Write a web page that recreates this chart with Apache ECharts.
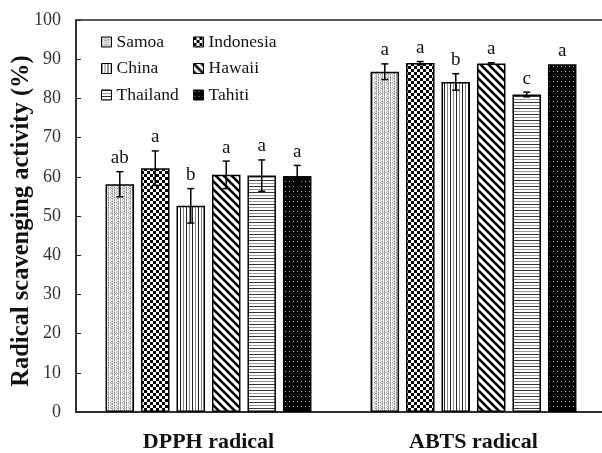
<!DOCTYPE html>
<html><head><meta charset="utf-8">
<script src="https://cdn.jsdelivr.net/npm/echarts@6/dist/echarts.min.js"></script>
<style>html,body{margin:0;padding:0;background:#fff}#c{width:602px;height:453px}</style>
</head><body><div id="c"></div>
<script>
// ---- data ----
const categories = ['DPPH radical', 'ABTS radical'];
const countries = ['Samoa', 'Indonesia', 'China', 'Hawaii', 'Thailand', 'Tahiti'];
const samoa = [58.1, 86.8];      const samoaErr = [3.2, 2.0];     const samoaSig = ['ab', 'a'];
const indonesia = [62.2, 89.0];  const indonesiaErr = [4.4, 0.4]; const indonesiaSig = ['a', 'a'];
const china = [52.6, 84.2];      const chinaErr = [4.4, 2.1];     const chinaSig = ['b', 'b'];
const hawaii = [60.5, 88.9];     const hawaiiErr = [3.5, 0.2];    const hawaiiSig = ['a', 'a'];
const thailand = [60.3, 81.0];   const thailandErr = [4.0, 0.6];  const thailandSig = ['a', 'c'];
const tahiti = [60.2, 88.7];     const tahitiErr = [2.7, 0.0];    const tahitiSig = ['a', 'a'];
const yTicks = [0, 10, 20, 30, 40, 50, 60, 70, 80, 90, 100];

const values = [samoa, indonesia, china, hawaii, thailand, tahiti];
const errors = [samoaErr, indonesiaErr, chinaErr, hawaiiErr, thailandErr, tahitiErr];
const sigs = [samoaSig, indonesiaSig, chinaSig, hawaiiSig, thailandSig, tahitiSig];

// ---- patterns ----
function mk(w, h, draw) { const c = document.createElement('canvas'); c.width = w; c.height = h; const g = c.getContext('2d'); g.fillStyle = '#fff'; g.fillRect(0, 0, w, h); draw(g); return c; }
const patSamoa = mk(6, 5, g => {
  const px = [[0,0,'#999'],[0,1,'#bbb'],[0,2,'#888'],[0,3,'#aaa'],[0,4,'#999'],[2,0,'#ccc'],[2,2,'#999'],[2,4,'#bbb'],[3,1,'#aaa'],[3,3,'#888'],[4,0,'#bbb'],[4,1,'#999'],[4,2,'#ccc'],[4,3,'#999'],[4,4,'#aaa'],[5,2,'#ddd'],[1,3,'#ddd']];
  for (const [x, y, c] of px) { g.fillStyle = c; g.fillRect(x, y, 1, 1); }
});
const patIndo = mk(6, 6, g => { g.fillStyle = '#000'; g.fillRect(0, 0, 3, 3); g.fillRect(3, 3, 3, 3); });
const patChina = mk(6, 1, g => { g.fillStyle = '#222'; g.fillRect(0, 0, 1, 1); g.fillStyle = '#888'; g.fillRect(3, 0, 1, 1); });
const patHawaii = mk(8, 8, g => { g.strokeStyle = '#000'; g.lineWidth = 2.6; for (const o of [-8, 0, 8]) { g.beginPath(); g.moveTo(o - 2, -2); g.lineTo(o + 10, 10); g.stroke(); } });
const patThai = mk(1, 6, g => { g.fillStyle = '#333'; g.fillRect(0, 0, 1, 1); g.fillStyle = '#999'; g.fillRect(0, 3, 1, 1); });
const patTahiti = mk(4, 5, g => { g.fillStyle = '#000'; g.fillRect(0, 0, 4, 5); g.fillStyle = '#bbb'; g.fillRect(1, 1, 1, 1); });
const patterns = [patSamoa, patIndo, patChina, patHawaii, patThai, patTahiti];

const FONT = "'Liberation Serif','Times New Roman',serif";
const BW = 28.5, GAP = 0.245;
const STEP = BW * (1 + GAP);
const TOTAL = 6 * BW + 5 * BW * GAP;

const barSeries = countries.map((name, i) => ({
  name, type: 'bar', data: values[i], barWidth: BW, barGap: (GAP * 100) + '%',
  itemStyle: { color: { image: patterns[i], repeat: 'repeat' }, borderColor: '#000', borderWidth: 1.5 },
  z: 2
}));

const errEntries = [];
for (let s = 0; s < countries.length; s++) for (let c = 0; c < categories.length; c++) errEntries.push([c, values[s][c], errors[s][c], s, sigs[s][c]]);

const errSeries = {
  type: 'custom', z: 5, silent: true,
  data: errEntries.map(e => [e[0], e[1], e[2], e[3]]),
  encode: { x: 0, y: 1 },
  renderItem(params, api) {
    const e = errEntries[params.dataIndex];
    const ci = e[0], m = e[1], er = e[2], si = e[3];
    const off = -TOTAL / 2 + BW / 2 + si * STEP;
    const c0 = api.coord([ci, m]);
    const x = c0[0] + off;
    const yt = api.coord([ci, m + er])[1];
    const yb = api.coord([ci, m - er])[1];
    const cap = 3.5;
    const st = { stroke: '#000', lineWidth: 1.5 };
    const children = [];
    if (er > 0) {
      children.push({ type: 'line', shape: { x1: x, y1: yt, x2: x, y2: yb }, style: st });
      children.push({ type: 'line', shape: { x1: x - cap, y1: yt, x2: x + cap, y2: yt }, style: st });
      children.push({ type: 'line', shape: { x1: x - cap, y1: yb, x2: x + cap, y2: yb }, style: st });
    }
    children.push({ type: 'text', style: { x: x, y: yt - 4, text: e[4], align: 'center', verticalAlign: 'bottom', font: "19px 'Liberation Serif','Times New Roman',serif", fill: '#111' } });
    return { type: 'group', children };
  }
};

const legendCommon = {
  orient: 'vertical', icon: 'rect', itemWidth: 10, itemHeight: 10, itemGap: 8.5,
  textStyle: { fontFamily: FONT, fontSize: 17.5, color: '#111' },
  itemStyle: { borderColor: '#000', borderWidth: 1 }
};

const chart = echarts.init(document.getElementById('c'));
chart.setOption({
  animation: false,
  backgroundColor: '#fff',
  grid: { left: 76, top: 20, width: 530, height: 392, show: true, borderColor: '#222', borderWidth: 1.5, backgroundColor: 'transparent', outerBoundsMode: 'none', containLabel: false },
  legend: [
    Object.assign({ left: 96, top: 28, data: ['Samoa', 'China', 'Thailand'] }, legendCommon),
    Object.assign({ left: 188, top: 28, data: ['Indonesia', 'Hawaii', 'Tahiti'] }, legendCommon)
  ],
  xAxis: {
    type: 'category', data: categories,
    axisLine: { lineStyle: { color: '#222', width: 1.5 } },
    axisTick: { show: false },
    axisLabel: { fontFamily: FONT, fontSize: 22, fontWeight: 'bold', color: '#111', margin: 19 }
  },
  yAxis: {
    type: 'value', min: 0, max: 100, interval: 10,
    name: 'Radical scavenging activity (%)', nameLocation: 'middle', nameGap: 42, nameMoveOverlap: false,
    nameTextStyle: { fontFamily: FONT, fontSize: 24.5, fontWeight: 'bold', color: '#111', padding: [0, 10, 0, 0] },
    axisLine: { show: true, lineStyle: { color: '#222', width: 1.5 } },
    axisTick: { show: true, inside: true, length: 5, lineStyle: { color: '#222' } },
    axisLabel: { fontFamily: FONT, fontSize: 18, color: '#333', margin: 15,
      formatter: v => yTicks.includes(v) ? String(v) : '' },
    splitLine: { show: false }
  },
  series: [...barSeries, errSeries]
});
</script></body></html>
